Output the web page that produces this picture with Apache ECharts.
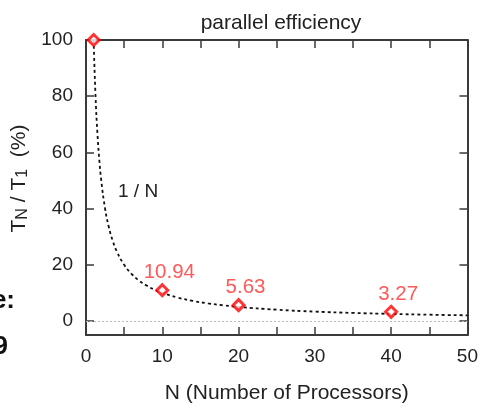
<!DOCTYPE html>
<html>
<head>
<meta charset="utf-8">
<script src="https://cdn.jsdelivr.net/npm/echarts@6/dist/echarts.min.js"></script>
<style>html,body{margin:0;padding:0;background:#fff}#c{width:481px;height:409px}</style>
</head>
<body>
<div id="c"></div>
<script>
// measured points
const procs = [1, 10, 20, 40];
const efficiency = [100, 10.94, 5.63, 3.27];
const pointLabels = ['', '10.94', '5.63', '3.27'];
// ideal 1/N curve (percent)
const curveN = [1, 1.25, 1.5, 1.75, 2, 2.5, 3, 3.5, 4, 5, 6, 7, 8, 9, 10, 12, 14, 16, 18, 20, 25, 30, 35, 40, 45, 50];
const curveV = [100, 80, 66.67, 57.14, 50, 40, 33.33, 28.57, 25, 20, 16.67, 14.29, 12.5, 11.11, 10, 8.33, 7.14, 6.25, 5.56, 5, 4, 3.33, 2.86, 2.5, 2.22, 2];
const xLabels = [0, 10, 20, 30, 40, 50];
const yTicks = [0, 20, 40, 60, 80, 100];

const FONT = 'Liberation Sans, Arial, sans-serif';
const axisCol = '#3a3a3a';
const txtCol = '#222';
const chart = echarts.init(document.getElementById('c'));
const xBase = {
  type: 'value', min: 0, max: 50, interval: 5,
  axisLine: { show: true, onZero: false, lineStyle: { color: axisCol, width: 2 } },
  axisTick: { show: true, inside: true, length: 8, lineStyle: { color: axisCol, width: 1.5 } },
  splitLine: { show: false }
};
const yBase = {
  type: 'value', min: -5, max: 100,
  axisLine: { show: true, onZero: false, lineStyle: { color: axisCol, width: 2 } },
  axisTick: { show: true, inside: true, length: 8, customValues: yTicks, lineStyle: { color: axisCol, width: 1.5 } },
  splitLine: { show: false }
};
chart.setOption({
  animation: false,
  title: {
    text: 'parallel efficiency', left: 276, top: 8, textAlign: 'center',
    textStyle: { fontFamily: FONT, fontSize: 21, fontWeight: 'normal', color: txtCol }
  },
  grid: { left: 86, top: 40, right: 11, bottom: 73 },
  xAxis: [
    Object.assign({}, xBase, {
      position: 'bottom',
      name: 'N (Number of Processors)', nameLocation: 'middle', nameGap: 48,
      nameTextStyle: { fontFamily: FONT, fontSize: 21, color: txtCol, padding: [0, 0, 0, 20] },
      axisLabel: {
        show: true, customValues: xLabels, margin: 12,
        fontFamily: FONT, fontSize: 19, color: txtCol
      }
    }),
    Object.assign({}, xBase, { position: 'top', axisLabel: { show: false } })
  ],
  yAxis: [
    Object.assign({}, yBase, {
      position: 'left',
      name: '{m|T}{s|N}{m| / T}{s|1}{m|  (%)}', nameLocation: 'middle', nameGap: 53, nameRotate: 90,
      nameTextStyle: {
        fontFamily: FONT, color: txtCol, padding: [0, 0, 0, 18],
        rich: {
          m: { fontFamily: FONT, fontSize: 21, color: txtCol },
          s: { fontFamily: FONT, fontSize: 16, color: txtCol, padding: [6, 0, 0, 0] }
        }
      },
      axisLabel: { show: true, customValues: yTicks, margin: 13, fontFamily: FONT, fontSize: 19, color: txtCol }
    }),
    Object.assign({}, yBase, { position: 'right', axisLabel: { show: false } })
  ],
  series: [
    {
      type: 'line', xAxisIndex: 0, yAxisIndex: 0,
      data: curveN.map((n, i) => [n, curveV[i]]),
      smooth: true, showSymbol: false, symbol: 'none',
      lineStyle: { color: '#111', width: 1.8, type: [3, 3] },
      markLine: {
        silent: true, symbol: 'none', label: { show: false },
        lineStyle: { color: '#bbb', width: 1, type: [2, 2] },
        data: [{ yAxis: 0 }]
      },
      z: 2
    },
    {
      type: 'scatter', xAxisIndex: 0, yAxisIndex: 0,
      data: procs.map((p, i) => [p, efficiency[i]]),
      symbol: 'diamond', symbolSize: 11,
      itemStyle: { color: '#fff', borderColor: '#ff0000', borderWidth: 3 },
      label: {
        show: true, position: 'top', distance: 3, offset: [7, 3],
        formatter: p => pointLabels[p.dataIndex],
        fontFamily: FONT, fontSize: 20.5, color: '#ff3030'
      },
      z: 5
    }
  ],
  graphic: [
    { type: 'text', left: 118, top: 182, style: { text: '1 / N', font: '19px ' + FONT, fill: txtCol } },
    { type: 'text', x: 15, y: 301, style: { text: 'ge:', font: 'bold 26px ' + FONT, fill: '#111', textAlign: 'right', textVerticalAlign: 'middle' } },
    { type: 'text', x: 8, y: 347, style: { text: '09', font: 'bold 26px ' + FONT, fill: '#111', textAlign: 'right', textVerticalAlign: 'middle' } }
  ]
});
</script>
</body>
</html>
